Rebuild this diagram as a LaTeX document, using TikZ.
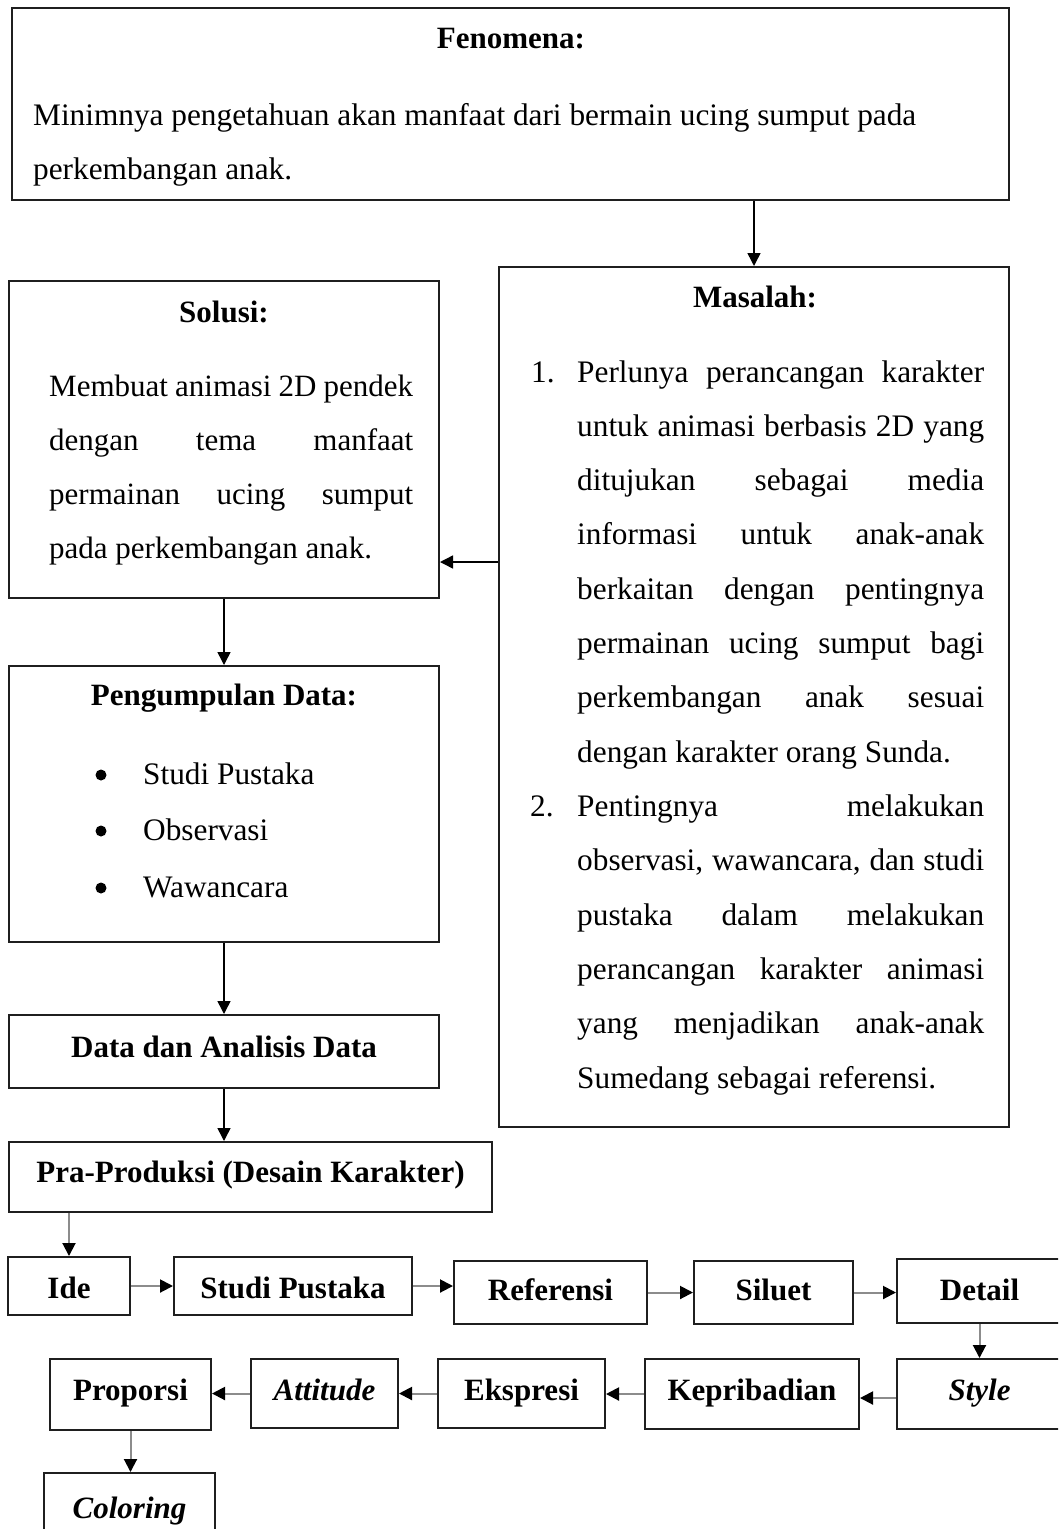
\documentclass[tikz,border=0pt]{standalone}
\usepackage{fontspec}
\setmainfont{Liberation Serif}
\usetikzlibrary{arrows.meta,calc}
\newcommand{\jl}[1]{\makebox[\linewidth][s]{#1}}
\newcommand{\bodyfont}{\fontsize{31.3}{54.3}\selectfont}
\tikzset{
  box/.style={draw=black!88, line width=2pt, rectangle, inner sep=0pt,
    font=\fontsize{31}{37}\selectfont\bfseries, text height=22pt, text depth=10pt},
  ttl/.style={anchor=base, inner sep=0pt, font=\fontsize{31}{37}\selectfont\bfseries},
  txt/.style={anchor=base west, inner sep=0pt, font=\bodyfont},
  dot/.style={circle, fill=black, inner sep=0pt, minimum size=11pt},
  arrk/.style={draw=black, line width=1.5pt, -{Triangle[width=13pt,length=13pt]}},
  arrg/.style={draw=black!45, line width=2pt, -{Triangle[width=13pt,length=13pt,color=black]}}
}
\begin{document}
\begin{tikzpicture}[x=1pt,y=-1pt]
\useasboundingbox (0,0) rectangle (1058,1529);
\clip (0,0) rectangle (1058,1529);
\fill[white] (0,0) rectangle (1058,1529);

% big boxes
\node[box, minimum width=997pt, minimum height=192pt] (fen) at (510.5,104) {};
\node[box, minimum width=510pt, minimum height=860pt] (mas) at (754,697) {};
\node[box, minimum width=430pt, minimum height=317pt] (sol) at (224,439.5) {};
\node[box, minimum width=430pt, minimum height=276pt] (pd) at (224,804) {};
\node[box, minimum width=430pt, minimum height=73pt, text depth=11pt] (dad) at (224,1051.5) {Data dan Analisis Data};
\node[box, minimum width=483pt, minimum height=70pt, text depth=12pt] (pra) at (250.5,1177) {Pra-Produksi (Desain Karakter)};

% small boxes
\node[box, minimum width=122pt, minimum height=58pt, text height=24pt, text depth=0pt] (ide) at (69,1286) {Ide};
\node[box, minimum width=238pt, minimum height=58pt, text height=24pt, text depth=0pt] (stu) at (293,1286) {Studi Pustaka};
\node[box, minimum width=193pt, minimum height=63pt, text depth=7pt] (ref) at (550.5,1292.5) {Referensi};
\node[box, minimum width=159pt, minimum height=63pt, text depth=7pt] (sil) at (773.5,1292.5) {Siluet};
\node[box, minimum width=165pt, minimum height=64pt, text depth=4pt] (det) at (979.5,1291) {Detail};
\node[box, minimum width=165pt, minimum height=70pt] (sty) at (979.5,1394) {\textit{Style}};
\node[box, minimum width=214pt, minimum height=70pt] (kep) at (752,1394) {Kepribadian};
\node[box, minimum width=167pt, minimum height=69pt, text depth=9pt] (eks) at (521.5,1393.5) {Ekspresi};
\node[box, minimum width=147pt, minimum height=69pt, text depth=9pt] (att) at (324.5,1393.5) {\textit{Attitude}};
\node[box, minimum width=161pt, minimum height=71pt, text depth=11pt] (pro) at (130.5,1394.5) {Proporsi};
\node[box, minimum width=171pt, minimum height=70pt, text depth=2pt] (col) at (129.5,1508) {\textit{Coloring}};

% Fenomena text
\node[ttl] (fent) at (511,48) {Fenomena:};
\node[txt] (fenb) at (33,125) {\parbox[t]{960pt}{\bodyfont Minimnya pengetahuan akan manfaat dari bermain ucing sumput pada\\perkembangan anak.}};

% Masalah text
\node[ttl] (mast) at (755,307) {Masalah:};
\node[txt] (mn1) at (531,382) {1.};
\node[txt] (mb1) at (577,382) {\parbox[t]{407pt}{\bodyfont
\jl{Perlunya perancangan karakter}\\
\jl{untuk animasi berbasis 2D yang}\\
\jl{ditujukan sebagai media}\\
\jl{informasi untuk anak-anak}\\
\jl{berkaitan dengan pentingnya}\\
\jl{permainan ucing sumput bagi}\\
\jl{perkembangan anak sesuai}\\
dengan karakter orang Sunda.}};
\node[txt] (mn2) at (530,816.5) {2.};
\node[txt] (mb2) at (577,816.5) {\parbox[t]{407pt}{\bodyfont
\jl{Pentingnya melakukan}\\
\jl{observasi, wawancara, dan studi}\\
\jl{pustaka dalam melakukan}\\
\jl{perancangan karakter animasi}\\
\jl{yang menjadikan anak-anak}\\
Sumedang sebagai referensi.}};

% Solusi text
\node[ttl] (solt) at (224,322) {Solusi:};
\node[txt] (solb) at (49,396) {\parbox[t]{364pt}{\fontsize{31}{54}\selectfont
\jl{Membuat animasi 2D pendek}\\
\jl{dengan tema manfaat}\\
\jl{permainan ucing sumput}\\
pada perkembangan anak.}};

% Pengumpulan Data text
\node[ttl] (pdt) at (224,705) {Pengumpulan Data:};
\node[dot] (b1) at (101,775) {};
\node[dot] (b2) at (101,831) {};
\node[dot] (b3) at (101,888) {};
\node[txt] (p1) at (143,784) {Studi Pustaka};
\node[txt] (p2) at (143,840) {Observasi};
\node[txt] (p3) at (143,897) {Wawancara};

% connectors (upper)
\draw[arrk] (fen.south -| mas.north) -- (mas.north);
\draw[arrk] ([yshift=135pt]mas.west) -- ([yshift=-122.5pt]sol.east);
\draw[arrk] (sol.south) -- (pd.north);
\draw[arrk] (pd.south) -- (dad.north);
\draw[arrk] (dad.south) -- (dad.south |- pra.north);

% connectors (lower)
\draw[arrg] (ide.north |- pra.south) -- (ide.north);
\draw[arrg] (ide.east) -- (ide.east -| stu.west);
\draw[arrg] (stu.east) -- (stu.east -| ref.west);
\draw[arrg] (ref.east) -- (ref.east -| sil.west);
\draw[arrg] (sil.east) -- (sil.east -| det.west);
\draw[arrg] (det.south) -- (sty.north);
\draw[arrg] ([yshift=-4pt]sty.west) -- ([yshift=-4pt]sty.west -| kep.east);
\draw[arrg] (kep.west) -- (kep.west -| eks.east);
\draw[arrg] (eks.west) -- (eks.west -| att.east);
\draw[arrg] (att.west) -- (att.west -| pro.east);
\draw[arrg] (pro.south) -- (pro.south |- col.north);
\end{tikzpicture}
\end{document}
